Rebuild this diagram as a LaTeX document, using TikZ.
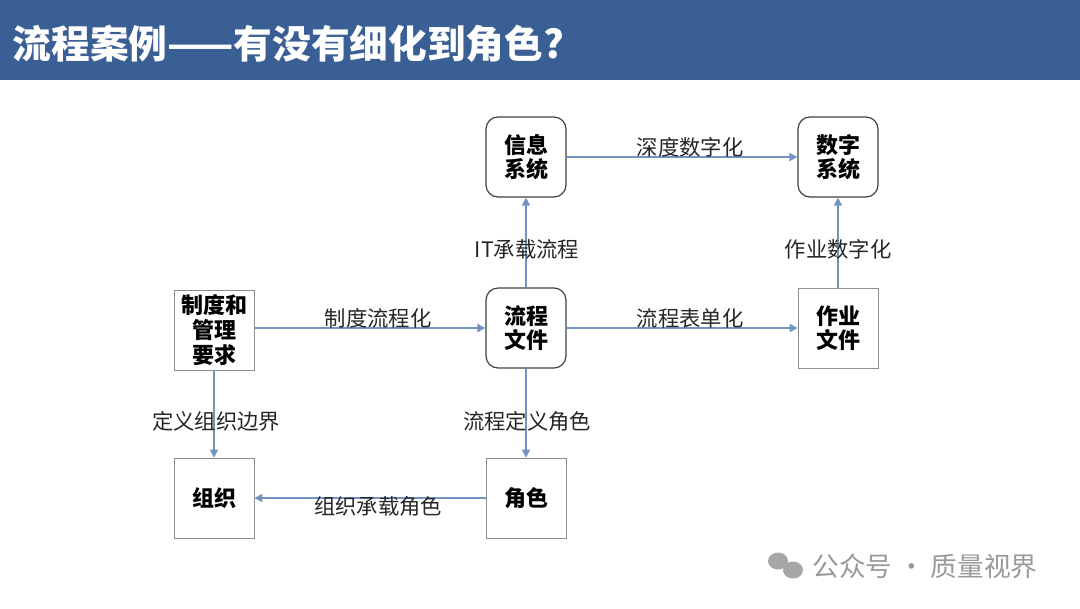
\documentclass[tikz,border=0pt]{standalone}
\usepackage{fontspec}
\setmainfont{Noto Sans CJK SC}
\usetikzlibrary{arrows.meta}
\definecolor{bar}{HTML}{3A5F95}
\definecolor{ln}{HTML}{7393C3}
\begin{document}
\begin{tikzpicture}[x=0.75pt,y=-0.75pt,
 box/.style={draw=black!75,line width=0.9pt,minimum width=60pt,minimum height=60pt,inner sep=0pt,align=center,font=\fontsize{16.5}{18.5}\selectfont\bfseries},
 rbox/.style={box,rounded corners=9pt},
 sbox/.style={box,draw=black!45,line width=0.6pt},
 ar/.style={draw=ln,line width=1.3pt,-{Triangle[length=6pt,width=6pt]}},
 lb/.style={font=\fontsize{16}{18}\selectfont,text=black!85,inner sep=1pt}]
\useasboundingbox (0,0) rectangle (1080,608);
\fill[bar] (0,0) rectangle (1080,80);
\node[anchor=west,text=white,font=\fontsize{29}{32}\selectfont\bfseries] (title) at (8,44) {流程案例——有没有细化到角色?};
\node[rbox] (xx) at (526,157) {信息\\系统};
\node[rbox] (sz) at (838,157) {数字\\系统};
\node[sbox] (zd) at (214,330) {制度和\\管理\\要求};
\node[rbox] (lc) at (526,328) {流程\\文件};
\node[sbox] (zy) at (838,328) {作业\\文件};
\node[sbox] (zz) at (214,498) {组织};
\node[sbox] (js) at (526,498) {角色};
\draw[ar] (xx) -- (sz);
\draw[ar] (lc) -- (zy);
\draw[ar] (zd.east|-lc) -- (lc);
\draw[ar] (lc) -- (xx);
\draw[ar] (zy) -- (sz);
\draw[ar] (zd) -- (zz);
\draw[ar] (lc) -- (js);
\draw[ar] (js) -- (zz);
\node[lb] (l1) at (690,147) {深度数字化};
\node[lb] (l2) at (690,318) {流程表单化};
\node[lb] (l3) at (378,318) {制度流程化};
\node[lb] (l4) at (527,249) {IT承载流程};
\node[lb] (l5) at (838,249) {作业数字化};
\node[lb] (l6) at (216,421) {定义组织边界};
\node[lb] (l7) at (527,421) {流程定义角色};
\node[lb] (l8) at (378,506) {组织承载角色};
\node[font=\fontsize{20}{22}\selectfont,text=black!40] (wm) at (925,566) {公众号 · 质量视界};
\fill[black!35] (778,561) ellipse (10 and 8.5);
\fill[black!35] (793,570) ellipse (10 and 8.5);
\end{tikzpicture}
\end{document}
